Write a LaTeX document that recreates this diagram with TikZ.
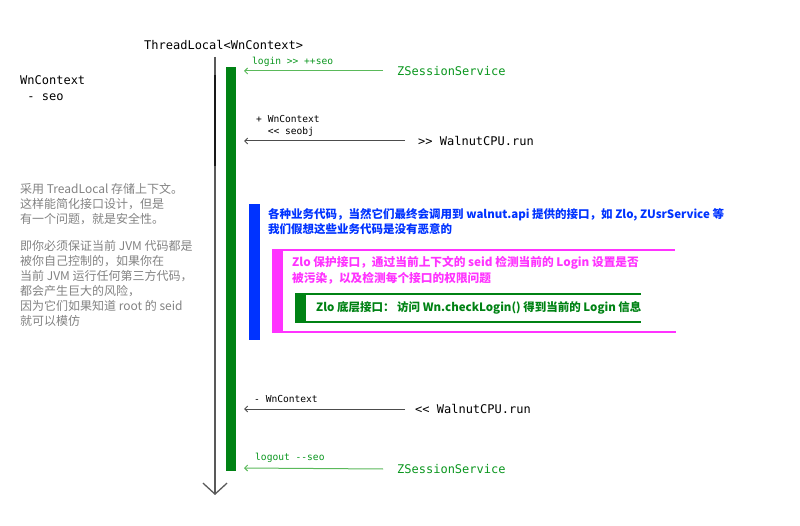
\documentclass[tikz,border=0pt]{standalone}
\usepackage{fontspec}
\setmonofont{DejaVu Sans Mono}
\newfontfamily\cjk{Noto Sans CJK SC}
\usepackage{xcolor}
\usepackage{tikz}
\usetikzlibrary{arrows.meta, positioning}

\definecolor{barGreen}{RGB}{0,130,20}
\definecolor{msgGreen}{RGB}{90,185,90}
\definecolor{svcGreen}{RGB}{10,150,30}
\definecolor{apiBlue}{RGB}{0,51,255}
\definecolor{zloMagenta}{RGB}{255,51,255}
\definecolor{noteGray}{RGB}{130,130,130}

\tikzset{
  mono/.style={font=\ttfamily\fontsize{12}{14}\selectfont, inner sep=0pt, anchor=west},
  lbl/.style={font=\ttfamily\fontsize{9.6}{11.5}\selectfont, inner sep=0pt, anchor=west, align=left},
  msgline/.style={line width=1pt, -{Straight Barb[length=3pt,width=6pt]}},
  cjktext/.style={font=\cjk\fontsize{12}{15}\selectfont, inner sep=0pt, anchor=north west, align=left},
}

\begin{document}
\begin{tikzpicture}[x=1pt,y=-1pt]
            \useasboundingbox (0,0) rectangle (800,526);
            % Lifeline
            \node[mono] (tl) at (144,45) {ThreadLocal<WnContext>};
            \coordinate (lifeTop) at (215,57);
            \coordinate (lifeEnd) at (215,495);
            \draw[line width=1.6pt, black!65, -{Straight Barb[length=11pt,width=24pt,line width=1.3pt]}] (lifeTop) -- (lifeEnd);
            \draw[line width=1.6pt, black!90] (215,75) -- (215,166);
            % Context bar
            \fill[barGreen] (226,67) rectangle (236,471);
            % Left notes
            \node[mono, anchor=north west, align=left, font=\ttfamily\fontsize{12}{16}\selectfont] (ctx) at (20,75) {WnContext\\\ - seo};
            \node[cjktext, text=noteGray] (note) at (20,183) {采用 TreadLocal 存储上下文。\\这样能简化接口设计，但是\\有一个问题，就是安全性。\\[12pt]即你必须保证当前 JVM 代码都是\\被你自己控制的，如果你在\\当前 JVM 运行任何第三方代码，\\都会产生巨大的风险，\\因为它们如果知道 root 的 seid\\就可以模仿};
            % login
            \node[mono, text=svcGreen] (zssIn) at (397,71) {ZSessionService};
            \coordinate (barIn) at (244,71);
            \draw[msgline, msgGreen] ([xshift=-14pt]zssIn.west) -- (barIn);
            \node[lbl, text=svcGreen] (loginLbl) at (252,62) {login >> ++seo};
            % run in
            \node[mono] (runIn) at (418,141) {>> WalnutCPU.run};
            \coordinate (barCtx) at (244,141);
            \draw[msgline, black!70] ([xshift=-13pt]runIn.west) -- (barCtx);
            \node[lbl] (ctxLbl) at (256,126) {+ WnContext\\\ \ << seobj};
            % Business code
            \fill[apiBlue] (249,204) rectangle (260,340);
            \node[cjktext, text=apiBlue, font=\cjk\bfseries\fontsize{11.5}{15}\selectfont] (biz) at (268,208) {各种业务代码，当然它们最终会调用到 walnut.api 提供的接口，如 Zlo, ZUsrService 等\\我们假想这些业务代码是没有恶意的};
            % Zlo protected
            \fill[zloMagenta] (272,250) rectangle (283,332);
            \draw[zloMagenta, line width=1.3pt] (272,250) -- (675,250) (272,332) -- (676,332);
            \node[cjktext, text=zloMagenta, font=\cjk\bfseries\fontsize{11.7}{16}\selectfont] (zloSafe) at (292,256) {Zlo 保护接口，通过当前上下文的 seid 检测当前的 Login 设置是否\\被污染，以及检测每个接口的权限问题};
            % Zlo base
            \fill[barGreen] (295,294) rectangle (306,322);
            \draw[barGreen, line width=1.3pt] (295,294) -- (641,294) (295,322) -- (641,322);
            \node[cjktext, anchor=west, text=barGreen, font=\cjk\bfseries\fontsize{11.5}{15}\selectfont] (zloBase) at (316,308) {Zlo 底层接口： 访问 Wn.checkLogin() 得到当前的 Login 信息};
            % run out
            \node[mono] (runOut) at (415,409) {<< WalnutCPU.run};
            \coordinate (barOut) at (244,409);
            \draw[msgline, black!70] ([xshift=-10pt]runOut.west) -- (barOut);
            \node[lbl] (rmLbl) at (254,399) {- WnContext};
            % logout
            \node[mono, text=svcGreen] (zssOut) at (397,469) {ZSessionService};
            \coordinate (barEnd) at (244,468);
            \draw[msgline, msgGreen] ([xshift=-14pt]zssOut.west) -- (barEnd);
            \node[lbl, text=svcGreen] (logoutLbl) at (255,458) {logout --seo};
        \end{tikzpicture}
\end{document}
